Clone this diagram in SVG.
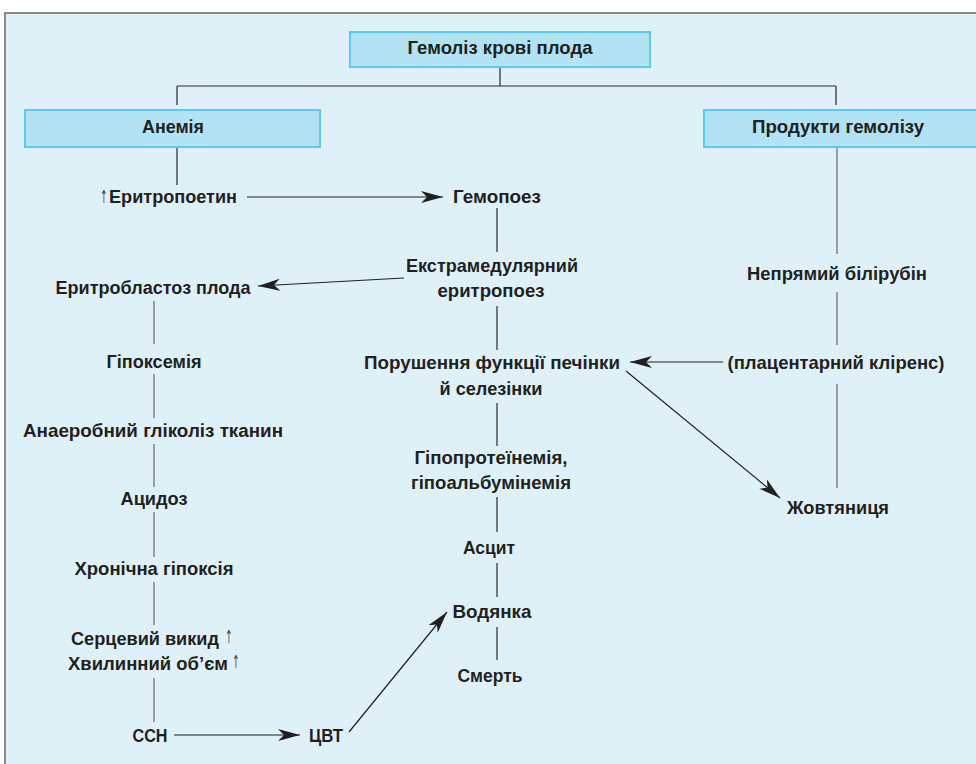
<svg xmlns="http://www.w3.org/2000/svg" width="976" height="764" viewBox="0 0 976 764">
<defs>
<style>
.bx{fill:#b2e3f5;stroke:#5ccaee;stroke-width:2}
.t{font-family:"Liberation Sans",Arial,sans-serif;font-weight:bold;font-size:19px;fill:#231f20;text-anchor:middle}
.tl{font-family:"Liberation Sans",Arial,sans-serif;font-weight:bold;font-size:19px;fill:#231f20;text-anchor:start}
.up{font-family:"DejaVu Sans",sans-serif;font-weight:normal;font-size:18px;fill:#444;text-anchor:start}
.ln{stroke:#2a2a2a;stroke-width:1.2;fill:none}
.lg{stroke:#7a7a7a;stroke-width:1.4;fill:none}
.ar{stroke:#231f20;stroke-width:1.2;fill:none;marker-end:url(#ah)}
</style>
<marker id="ah" markerUnits="userSpaceOnUse" markerWidth="24" markerHeight="14" refX="22" refY="6.5" orient="auto" viewBox="0 0 24 14">
<path d="M0,0.5 L22,6.5 L0,12.5 L6,6.5 Z" fill="#231f20"/>
</marker>
</defs>
<rect x="0" y="0" width="976" height="764" fill="#ffffff"/>
<rect x="5" y="13" width="990" height="770" fill="#dff1f8" stroke="#8a8a8a" stroke-width="2"/>

<g id="connectors">
<path class="ln" d="M500,67 V86 M177,86 H836 M177,86 V105 M836,86 V105"/>
<path class="ln" d="M177,147 V185"/>
<path class="ar" d="M247,197 H443"/>
<path class="ln" d="M497,208 V252"/>
<path class="ar" d="M404,278 L258,286"/>
<path class="lg" d="M154,301 V344 M154,374 V418 M154,444 V487 M154,512 V557 M154,582 V625 M154,678 V722"/>
<path class="ar" d="M174,735 H300"/>
<path class="ar" d="M349,732 L447,612"/>
<path class="ln" d="M497,306 V350 M497,403 V446 M497,497 V532 M497,563 V597 M497,627 V660"/>
<path class="lg" d="M837,147 V254 M837,292 V345 M837,384 V488"/>
<path class="ar" d="M723,362 H630"/>
<path class="ar" d="M626,371 L780,498"/>
</g>

<g id="n-hemoliz"><rect class="bx" x="350" y="32" width="300" height="35"/><text class="t" x="500" y="54" textLength="185" lengthAdjust="spacingAndGlyphs">Гемоліз крові плода</text></g>
<g id="n-anemia"><rect class="bx" x="25" y="110" width="295" height="37"/><text class="t" x="173" y="133" textLength="62" lengthAdjust="spacingAndGlyphs">Анемія</text></g>
<g id="n-products"><rect class="bx" x="704" y="110" width="280" height="37"/><text class="t" x="838" y="133" textLength="172" lengthAdjust="spacingAndGlyphs">Продукти гемолізу</text></g>

<g id="n-erythropoietin"><text class="up" transform="translate(100,203) scale(0.5,1)">↑</text><text class="tl" x="109" y="203" textLength="128" lengthAdjust="spacingAndGlyphs">Еритропоетин</text></g>
<g id="n-hemopoez"><text class="tl" x="453" y="203" textLength="88" lengthAdjust="spacingAndGlyphs">Гемопоез</text></g>
<g id="n-extramed"><text class="t" x="492" y="272" textLength="172" lengthAdjust="spacingAndGlyphs">Екстрамедулярний</text><text class="t" x="491" y="297" textLength="107" lengthAdjust="spacingAndGlyphs">еритропоез</text></g>
<g id="n-erythroblastoz"><text class="t" x="153" y="294" textLength="195" lengthAdjust="spacingAndGlyphs">Еритробластоз плода</text></g>
<g id="n-hipoksemia"><text class="t" x="154" y="368" textLength="95" lengthAdjust="spacingAndGlyphs">Гіпоксемія</text></g>
<g id="n-anaerob"><text class="t" x="153" y="437" textLength="260" lengthAdjust="spacingAndGlyphs">Анаеробний гліколіз тканин</text></g>
<g id="n-acidoz"><text class="t" x="154" y="505" textLength="67" lengthAdjust="spacingAndGlyphs">Ацидоз</text></g>
<g id="n-hypoxia"><text class="t" x="154" y="575" textLength="159" lengthAdjust="spacingAndGlyphs">Хронічна гіпоксія</text></g>
<g id="n-cardiac"><text class="tl" x="71" y="645" textLength="148" lengthAdjust="spacingAndGlyphs">Серцевий викид</text><text class="up" transform="translate(225,643) scale(0.5,1)">↑</text><text class="tl" x="68" y="670" textLength="160" lengthAdjust="spacingAndGlyphs">Хвилинний об’єм</text><text class="up" transform="translate(232,668) scale(0.5,1)">↑</text></g>
<g id="n-ssn"><text class="t" x="150" y="742" textLength="35" lengthAdjust="spacingAndGlyphs">ССН</text></g>
<g id="n-cvt"><text class="t" x="326" y="742" textLength="34" lengthAdjust="spacingAndGlyphs">ЦВТ</text></g>
<g id="n-liver"><text class="t" x="492" y="369" textLength="256" lengthAdjust="spacingAndGlyphs">Порушення функції печінки</text><text class="t" x="491" y="395" textLength="103" lengthAdjust="spacingAndGlyphs">й селезінки</text></g>
<g id="n-hypoprot"><text class="t" x="491" y="464" textLength="153" lengthAdjust="spacingAndGlyphs">Гіпопротеїнемія,</text><text class="t" x="491" y="489" textLength="160" lengthAdjust="spacingAndGlyphs">гіпоальбумінемія</text></g>
<g id="n-ascit"><text class="t" x="489" y="554" textLength="52" lengthAdjust="spacingAndGlyphs">Асцит</text></g>
<g id="n-vodyanka"><text class="t" x="492" y="618" textLength="79" lengthAdjust="spacingAndGlyphs">Водянка</text></g>
<g id="n-smert"><text class="t" x="490" y="682" textLength="65" lengthAdjust="spacingAndGlyphs">Смерть</text></g>
<g id="n-bilirubin"><text class="t" x="837" y="280" textLength="180" lengthAdjust="spacingAndGlyphs">Непрямий білірубін</text></g>
<g id="n-clearance"><text class="t" x="836" y="369" textLength="217" lengthAdjust="spacingAndGlyphs">(плацентарний кліренс)</text></g>
<g id="n-jaundice"><text class="t" x="838" y="514" textLength="102" lengthAdjust="spacingAndGlyphs">Жовтяниця</text></g>
</svg>
